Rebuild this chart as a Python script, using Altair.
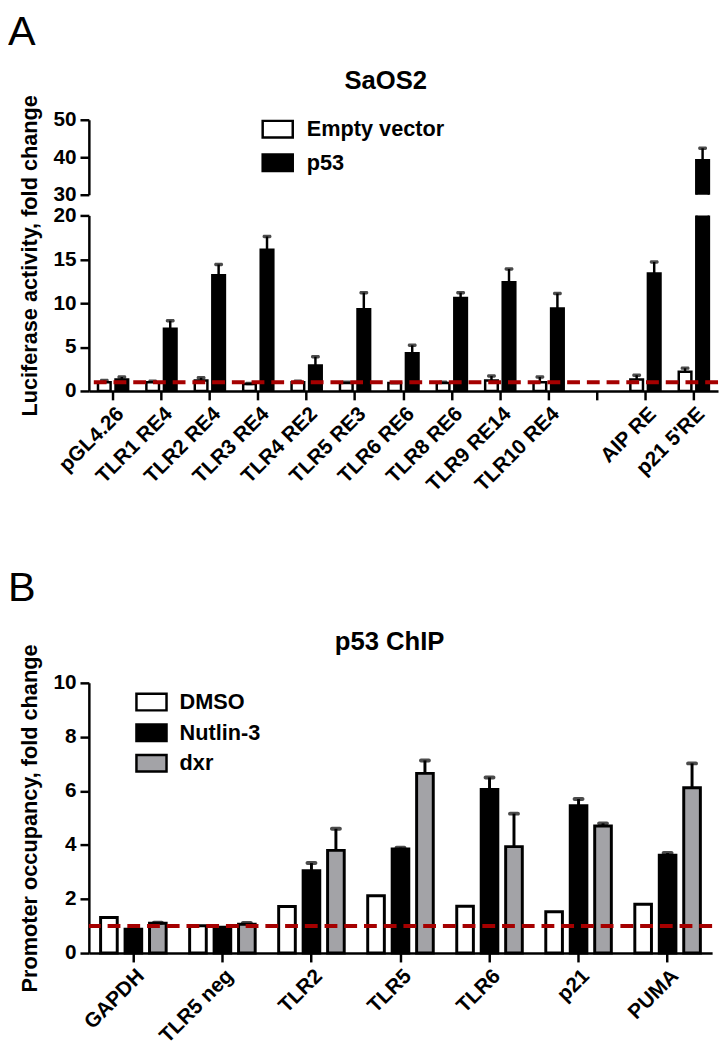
import altair as alt
import pandas as pd

FONT = "Liberation Sans"

# ---------------- Panel A data (SaOS2 luciferase) ----------------
a_categories = ["pGL4.26", "TLR1 RE4", "TLR2 RE4", "TLR3 RE4", "TLR4 RE2", "TLR5 RE3",
                "TLR6 RE6", "TLR8 RE6", "TLR9 RE14", "TLR10 RE4", "AIP RE", "p21 5'RE"]
a_series = ["Empty vector", "p53"]
a_empty = [1.0, 1.0, 1.2, 0.8, 1.0, 0.9, 0.9, 0.9, 1.2, 1.0, 1.3, 2.2]
a_empty_err = [0.2, 0.1, 0.3, 0.05, 0.1, 0.1, 0.05, 0.1, 0.5, 0.6, 0.5, 0.4]
a_p53 = [1.3, 7.1, 13.2, 16.1, 2.9, 9.3, 4.3, 10.6, 12.4, 9.4, 13.4, 39.2]
a_p53_err = [0.3, 0.9, 1.2, 1.5, 1.0, 1.9, 0.9, 0.6, 1.5, 1.7, 1.3, 3.2]
a_ticks_low = [0, 5, 10, 15, 20]
a_ticks_high = [30, 40, 50]

# ---------------- Panel B data (p53 ChIP) ----------------
b_categories = ["GAPDH", "TLR5 neg", "TLR2", "TLR5", "TLR6", "p21", "PUMA"]
b_series = ["DMSO", "Nutlin-3", "dxr"]
b_dmso = [1.32, 1.01, 1.72, 2.12, 1.73, 1.53, 1.81]
b_dmso_err = [0, 0, 0, 0, 0, 0, 0]
b_nutlin = [0.88, 0.96, 3.05, 3.85, 6.05, 5.45, 3.62]
b_nutlin_err = [0, 0, 0.28, 0.05, 0.45, 0.25, 0.08]
b_dxr = [1.10, 1.07, 3.80, 6.65, 3.94, 4.70, 6.12]
b_dxr_err = [0.02, 0.04, 0.80, 0.48, 1.22, 0.10, 0.90]
b_ticks = [0, 2, 4, 6, 8, 10]

# ---------------- layout ----------------
WA, HA_TOP, HA_LOW, GAP = 638, 76, 178, 21
WB, HB_PLOT, B_OFF = 632, 274, 275
HB = HB_PLOT + B_OFF
DASH_COLOR = "#a50000"
GRAY = "#a3a3a7"
RECT = "M-1,-0.55H1V0.55H-1Z"

dfA = pd.DataFrame({
    "cat": a_categories * 2,
    "series": [a_series[0]] * len(a_categories) + [a_series[1]] * len(a_categories),
    "value": a_empty + a_p53,
    "err": a_empty_err + a_p53_err,
})
dfA["top"] = dfA["value"] + dfA["err"]
a_domain = a_categories[:10] + [" "] + a_categories[10:]

dfB = pd.DataFrame({
    "cat": b_categories * 3,
    "series": sum([[s] * len(b_categories) for s in b_series], []),
    "value": b_dmso + b_nutlin + b_dxr,
    "err": b_dmso_err + b_nutlin_err + b_dxr_err,
})
dfB["top"] = dfB["value"] + dfB["err"]

ref_df = pd.DataFrame({"ref": [1]})


def panel_a(part):
    low = part == "low"
    ydom = [0, 20] if low else [30, 50]
    yscale = alt.Scale(domain=ydom, nice=False, zero=False)
    if low:
        yaxis = alt.Axis(values=a_ticks_low, title="Luciferase activity, fold change",
                         titleY=(116 + 391) / 2 - 213, titlePadding=12)
        xaxis = alt.Axis(labelAngle=-45, labelPadding=3, title=None)
    else:
        yaxis = alt.Axis(values=a_ticks_high, title=None)
        xaxis = None
    x = alt.X("cat:N", scale=alt.Scale(domain=a_domain, paddingInner=0, paddingOuter=0),
              axis=xaxis, title=None)
    xo = alt.XOffset("series:N", scale=alt.Scale(domain=a_series, paddingInner=0.28,
                                                 paddingOuter=0.52))

    def Y(f):
        return alt.Y(f, scale=yscale, axis=yaxis)

    base = alt.Chart(dfA)
    fill_legend = None
    if not low:
        fill_legend = alt.Legend(orient="none", legendX=175, legendY=-7, title=None,
                                 symbolType=RECT, symbolSize=930,
                                 symbolStrokeColor="black", symbolStrokeWidth=2.5,
                                 labelFont=FONT, labelFontSize=22, labelFontWeight="bold",
                                 labelColor="black", rowPadding=4, labelOffset=13, padding=0)
    bars = base.mark_bar(stroke="black", strokeWidth=2.5, clip=True).encode(
        x=x, xOffset=xo, y=Y("value:Q"), y2=alt.datum(0),
        fill=alt.Fill("series:N", scale=alt.Scale(domain=a_series, range=["white", "black"]),
                      legend=fill_legend),
    )
    err = base.transform_filter("datum.err > 0")
    stems = err.mark_rule(color="black", strokeWidth=2.5, clip=True).encode(
        x=x, xOffset=xo, y=Y("value:Q"), y2="top:Q")
    caps = err.mark_tick(color="black", thickness=3.5, size=9, clip=True,
                         cornerRadius=1.5).encode(x=x, xOffset=xo, y=Y("top:Q"))
    layers = [bars, stems, caps]
    if low:
        dash = alt.Chart(ref_df).mark_rule(color=DASH_COLOR, strokeWidth=4,
                                            strokeDash=[13, 7]).encode(y=alt.datum(1))
        layers.append(dash)
    else:
        letter = alt.Chart(ref_df).mark_text(text="A", font=FONT, fontSize=42, align="left",
                                             baseline="alphabetic", color="black").encode(
            x=alt.value(-82), y=alt.value(-76))
        title = alt.Chart(ref_df).mark_text(text="SaOS2", font=FONT, fontSize=26,
                                            fontWeight="bold", align="center",
                                            baseline="alphabetic", color="black").encode(
            x=alt.value(301), y=alt.value(-31))
        layers += [letter, title]
    return alt.layer(*layers).properties(width=WA, height=HA_LOW if low else HA_TOP)


def panel_b():
    yscale = alt.Scale(domain=[0, 10], nice=False, range=[HB, B_OFF])
    yaxis = alt.Axis(values=b_ticks, title="Promoter occupancy, fold change",
                     titleY=(B_OFF + HB) / 2, titlePadding=12)
    x = alt.X("cat:N", scale=alt.Scale(domain=b_categories, paddingInner=0, paddingOuter=0),
              axis=alt.Axis(labelAngle=-45, labelPadding=3), title=None)
    xo = alt.XOffset("series:N", scale=alt.Scale(domain=b_series, paddingInner=0.32,
                                                 paddingOuter=0.48))

    def Y(f):
        return alt.Y(f, scale=yscale, axis=yaxis)

    base = alt.Chart(dfB)
    legend = alt.Legend(orient="none", legendX=47, legendY=B_OFF + 3, title=None,
                        symbolType=RECT, symbolSize=930,
                        symbolStrokeColor="black", symbolStrokeWidth=2.5,
                        labelFont=FONT, labelFontSize=22, labelFontWeight="bold",
                        labelColor="black", rowPadding=1, labelOffset=12, padding=0)
    bars = base.mark_bar(stroke="black", strokeWidth=3).encode(
        x=x, xOffset=xo, y=Y("value:Q"), y2=alt.datum(0),
        fill=alt.Fill("series:N", scale=alt.Scale(domain=b_series,
                                                  range=["white", "black", GRAY]),
                      legend=legend),
    )
    err = base.transform_filter("datum.err > 0")
    stems = err.mark_rule(color="black", strokeWidth=3).encode(
        x=x, xOffset=xo, y=Y("value:Q"), y2="top:Q")
    caps = err.mark_tick(color="black", thickness=4, size=12, cornerRadius=2).encode(
        x=x, xOffset=xo, y=Y("top:Q"))
    dash = alt.Chart(ref_df).mark_rule(color=DASH_COLOR, strokeWidth=4,
                                        strokeDash=[13, 7]).encode(y=alt.datum(1))
    letter = alt.Chart(ref_df).mark_text(text="B", font=FONT, fontSize=42, align="left",
                                         baseline="alphabetic", color="black").encode(
        x=alt.value(-82), y=alt.value(B_OFF - 83))
    title = alt.Chart(ref_df).mark_text(text="p53 ChIP", font=FONT, fontSize=26,
                                        fontWeight="bold", align="center",
                                        baseline="alphabetic", color="black").encode(
        x=alt.value(305), y=alt.value(B_OFF - 33))
    return alt.layer(bars, stems, caps, dash, letter, title).properties(width=WB, height=HB)


chart = alt.vconcat(panel_a("top"), panel_a("low"), panel_b(), spacing=GAP, bounds="flush")
chart = chart.resolve_scale(fill="independent", xOffset="independent").properties(
    padding={"left": 0, "top": -4, "right": 0, "bottom": 0}
).configure_view(stroke=None).configure_axis(
    domainColor="black", domainWidth=2.5, tickColor="black", tickWidth=2.5, tickSize=9,
    labelFont=FONT, labelFontWeight="bold", labelFontSize=21, labelColor="black",
    titleFont=FONT, titleFontWeight="bold", titleFontSize=22, titleColor="black",
    grid=False, labelPadding=4,
)

chart.save("out.html", embed_options={"renderer": "svg", "actions": False})
